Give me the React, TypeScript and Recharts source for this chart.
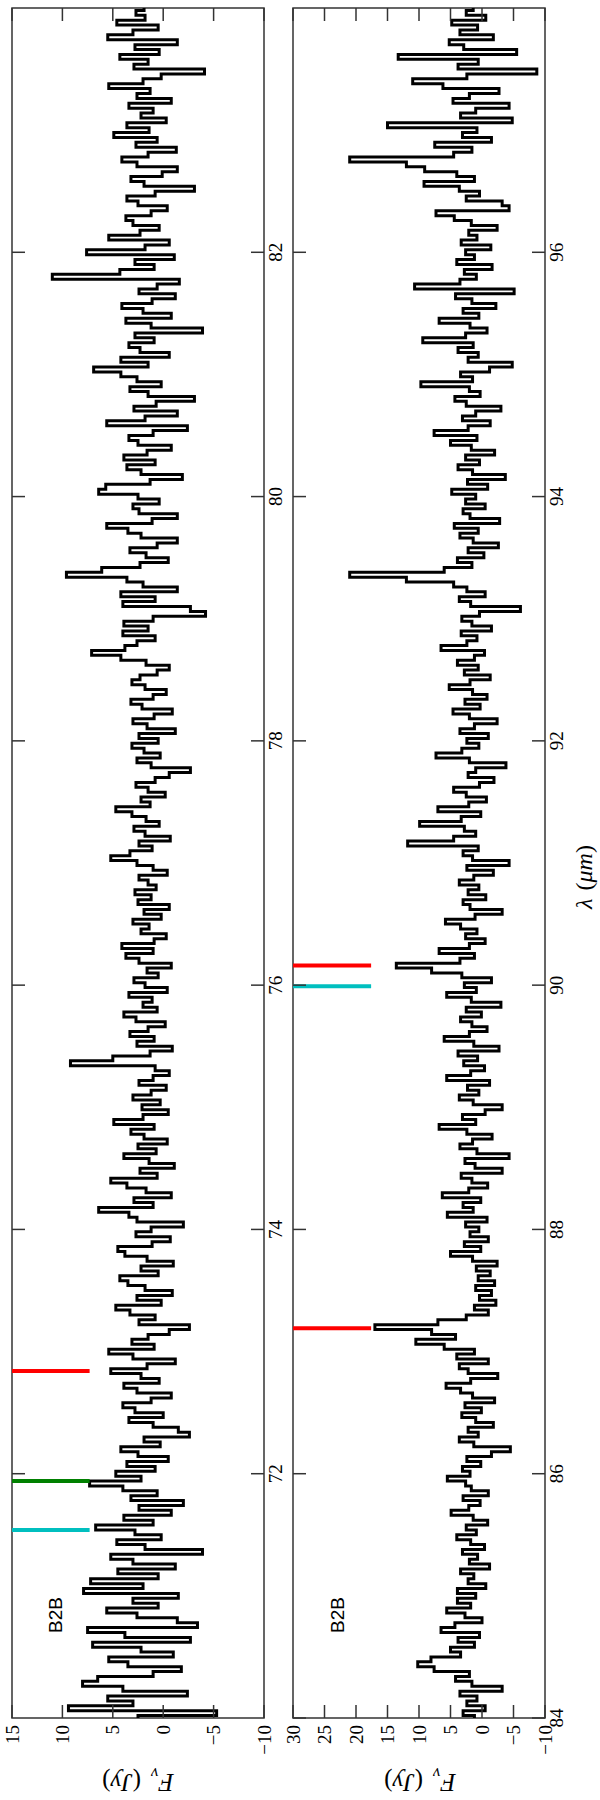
import React from "react";
import {
  LineChart,
  Line,
  XAxis,
  YAxis,
  ReferenceArea,
  ReferenceLine,
} from "recharts";

// sampling of both spectra, in µm
const STEP = 0.04;

// B2B, upper panel: 70.00 .. 84.00 µm, Fν in Jy (one row per µm)
const fluxShort = [
  2.5, -5.3, 9.4, 3.0, 5.5, -2.4, 4.0, 8.0, 6.5, 1.0, -1.8, 3.5, 5.4, -1.0, 2.2, 7.0, -2.7, 3.8, 7.5, -3.4, -1.4, 2.6, 5.6, 0.5, 3.0, // 70
  -1.5, 7.9, 2.0, 7.2, 0.5, 4.5, -1.2, 3.0, 5.2, -3.9, 1.8, 4.6, 0.2, 2.8, 6.7, 1.0, 3.9, -0.8, 2.4, -2.0, 3.2, 0.6, 4.0, 7.3, 2.2, // 71
  4.7, 0.8, 3.6, -0.5, 2.5, 4.2, 0.3, 1.9, -2.6, -1.5, 1.0, 3.4, 0.0, 2.8, 4.0, 1.2, -0.8, 2.6, 3.9, 0.4, 2.2, 5.2, 1.6, -1.2, 3.0, // 72
  5.4, 0.9, 3.1, 1.5, -0.6, -2.6, 2.4, 0.8, 3.3, 4.7, 0.2, 2.6, -0.9, 1.8, 3.5, 4.3, 0.5, 2.2, -1.0, 1.6, 3.8, 4.5, 1.1, -0.7, 2.7, // 73
  1.2, -2.0, 2.6, 3.4, 6.4, 1.0, 2.9, -0.8, 1.7, 3.6, 5.2, 0.6, 2.3, -1.1, 1.4, 3.9, 0.7, 2.5, -0.4, 1.9, 3.2, 0.9, 4.9, 2.0, -0.5, // 74
  2.1, 0.3, 3.0, 1.2, -0.3, 2.4, 1.0, -0.6, 0.8, 9.2, 5.0, 1.3, -0.9, 2.6, 0.9, 3.3, 1.5, -0.2, 2.7, 3.9, 0.6, 2.0, 1.1, 3.4, -0.4, // 75
  1.8, 2.9, 0.5, 1.6, -0.8, 2.4, 3.7, 1.0, 4.1, 0.9, -0.3, 2.2, 1.4, 3.0, 0.2, 1.9, -0.6, 2.5, 1.2, 2.8, 0.7, 1.5, 2.4, -0.4, 1.0, // 76
  2.6, 5.2, 3.3, 1.1, 2.4, -0.7, 1.8, 2.9, 0.4, 1.7, 3.1, 4.7, 1.3, 2.2, -0.2, 1.5, 2.7, 0.8, -0.6, -2.7, 1.2, 2.6, 0.3, 1.9, 3.1, // 77
  0.5, 2.4, -1.2, 1.6, 3.0, 0.9, -0.9, 2.1, 3.2, 1.0, -0.3, 1.8, 3.1, 2.3, 0.6, -0.6, 1.7, 4.2, 7.1, 3.8, 2.6, 0.8, 4.0, 1.5, 3.9, // 78
  1.0, -4.2, -2.7, 4.0, 0.8, 4.2, -1.4, 2.0, 3.6, 9.6, 6.1, 2.3, -0.5, 1.7, 3.3, 0.6, -1.4, 2.2, 3.5, 5.6, 1.1, -1.4, 2.4, 3.0, 0.4, // 79
  2.5, 6.4, 5.7, 1.3, -1.9, 2.2, 3.6, 0.8, 3.9, 1.6, -0.8, 2.5, 3.4, 1.0, -2.4, 5.6, 1.8, -1.4, 2.9, 0.7, -3.1, 1.5, 3.3, 0.2, 2.6, // 80
  4.2, 6.9, 1.5, 4.2, -0.6, 2.3, 3.4, 0.9, 2.8, -3.9, 1.2, 3.7, -0.8, 2.0, 4.1, 1.1, -1.2, 2.4, 0.6, -1.6, 11.0, 4.3, 0.9, 2.8, -1.1, // 81
  7.6, 1.8, -0.6, 5.4, 2.3, 0.4, 3.0, 3.7, 1.2, -0.4, 2.5, 3.6, 0.8, -3.1, 1.9, 3.2, 0.1, -1.4, 2.6, 4.1, 1.5, -1.3, 2.7, 0.6, 4.9, // 82
  1.4, 3.6, -0.3, 2.2, 1.0, 3.4, -0.8, 2.6, 1.3, 5.4, 2.0, 0.2, -4.1, 2.9, 1.5, 4.3, 0.4, 2.8, -1.4, 5.5, 3.0, 0.5, 4.6, 1.8, 2.7, // 83
  1.9,
];

// B2B, lower panel: 84.00 .. 98.00 µm, Fν in Jy
const fluxLong = [
  1.2, 3.0, -0.5, 2.4, 0.8, 3.5, -3.2, 1.6, 4.2, 2.0, 7.6, 10.2, 8.1, 3.4, 5.0, 1.2, 3.8, 0.4, 6.5, 4.3, 0.0, 2.7, 5.6, 1.8, 3.9, // 84
  1.0, 3.9, -0.6, 2.2, 1.3, 3.4, -1.2, 2.0, 0.7, 3.1, -0.4, 1.8, 4.0, 0.9, 2.5, -0.9, 1.4, 4.9, 2.1, 0.3, 3.0, -1.0, 1.7, 2.6, 5.5, // 85
  1.9, 3.1, 0.2, 2.4, -1.5, -4.5, 1.3, 3.6, 0.6, 2.2, -1.8, 1.0, 3.2, 0.1, 2.7, -2.0, 1.5, 3.4, 5.7, 1.8, -2.5, 2.2, 3.6, -1.0, 4.0, // 86
  1.2, 6.0, 10.5, 4.2, 8.0, 17.0, 7.0, 2.5, -1.0, 1.2, -2.2, 0.4, -1.5, 1.0, -2.0, 0.6, -1.3, 0.9, -2.4, 1.5, 5.0, 0.2, 2.8, -1.0, 1.9, // 87
  0.5, 2.6, -0.8, 5.5, 1.4, 3.0, 0.2, 6.3, 2.1, -0.9, 1.6, 3.3, -3.2, 1.1, 2.7, -4.3, 0.8, 3.5, 1.5, -1.6, 2.4, 6.8, 1.0, 3.1, -0.5, // 88
  -3.2, 1.4, 3.6, 0.5, 2.3, -1.2, 5.6, 1.8, -0.4, 2.9, 0.7, 3.8, -2.7, 1.3, 6.0, 2.0, -0.8, 1.6, 3.4, 0.1, 2.5, -3.0, 1.7, 5.6, 0.9, // 89
  2.8, -1.5, 3.2, 8.0, 13.6, 3.5, 1.2, 6.8, 2.0, -0.5, 2.6, 0.8, 3.4, 5.8, 1.1, -3.2, 1.9, 3.0, -0.6, 2.2, 0.5, 3.6, 1.3, -1.8, 2.4, // 90
  -4.3, 1.5, 3.0, 0.6, 11.8, 4.5, 1.0, 2.8, 9.9, 3.3, 0.2, 7.0, 2.1, -0.7, 2.5, 4.5, 0.4, -1.9, 2.2, 1.0, -3.8, 2.0, 7.3, 3.2, 0.5, // 91
  2.4, -1.0, 3.5, 1.2, -2.4, 2.0, 4.6, 0.3, 2.7, -0.8, 1.5, 5.2, 1.9, -1.3, 2.8, 0.6, 3.9, 1.2, -0.4, 6.5, 2.4, 0.8, 3.3, -1.5, 1.6, // 92
  3.2, 0.4, -6.1, 1.8, 3.6, -0.5, 2.4, 4.5, 12.0, 21.0, 6.0, 1.6, 3.9, -0.3, 2.2, -2.6, 1.4, 3.5, 0.6, 4.4, -2.8, 1.9, 3.0, -0.5, 2.6, // 93
  1.0, 4.8, -0.9, 2.3, -3.7, 1.5, 3.8, 0.4, 2.6, -2.0, 1.7, 5.0, 0.8, 7.6, 2.2, -1.3, 3.1, 1.0, -3.0, 2.5, 4.3, 0.3, 2.0, 9.7, 1.5, // 94
  3.4, -1.2, -4.8, 2.2, 0.6, 3.8, 1.4, 9.4, 2.6, -0.8, 1.9, 6.8, 0.5, 3.0, -2.2, 1.6, 4.2, -5.1, 10.7, 3.5, 0.9, 2.8, -1.6, 4.0, 1.2, // 95
  2.6, -1.4, 3.3, 0.8, 2.1, -2.4, 1.7, 4.4, 7.3, -4.3, -3.2, 2.5, 0.4, 3.6, 9.2, 1.2, 4.0, 9.1, 12.0, 21.0, 4.5, 1.6, 7.5, -1.5, 3.1, // 96
  0.8, 15.0, -4.8, 3.4, 1.0, -4.3, 4.6, 2.0, -2.7, 6.2, 11.0, 2.4, -8.7, 3.8, 0.6, 13.3, -5.5, 2.9, 5.2, -1.8, 3.5, 0.7, 4.8, -0.6, 2.5, // 97
  1.4,
];

const shortRange = [70, 84];
const longRange = [84, 98];
const shortTicks = [72, 74, 76, 78, 80, 82];
const longTicks = [84, 86, 88, 90, 92, 94, 96];
const shortFluxRange = [-10, 15];
const longFluxRange = [-10, 30];
const shortFluxTicks = [-10, -5, 0, 5, 10, 15];
const longFluxTicks = [-10, -5, 0, 5, 10, 15, 20, 25, 30];

// line identifications (µm) and the flux span of their markers
const shortLines = [71.54, 71.94, 72.84];
const longLines = [87.19, 89.99, 90.16];
const shortMarkerSpan = [7.3, 15];
const longMarkerSpan = [17.6, 30];

const CYAN = "#00bfbf";
const GREEN = "#008000";
const RED = "#ff0000";
const shortLineColors = [CYAN, GREEN, RED];
const longLineColors = [RED, CYAN, RED];

// landscape layout, the whole figure is turned a quarter to the left
const FIG_W = 1800;
const FIG_H = 600;
const CHART_H = 300;
const PLOT_TOP = 12;
const PLOT_LEFT = 82;
const PLOT_RIGHT = 1792;
const X_AXIS_H = 36;
const PLOT_BOTTOM = CHART_H - X_AXIS_H;
const TICK = 13;
const FRAME = "#333";
const SERIF = "'Liberation Serif', 'DejaVu Serif', serif";

function fmt(v: number) {
  return v < 0 ? `\u2212${Math.abs(v)}` : `${v}`;
}

function YTick(props: any) {
  const { x, y, payload } = props;
  return (
    <g>
      <line x1={PLOT_LEFT} x2={PLOT_LEFT + TICK} y1={y} y2={y} stroke={FRAME} strokeWidth={1.5} />
      <line x1={PLOT_RIGHT - TICK} x2={PLOT_RIGHT} y1={y} y2={y} stroke={FRAME} strokeWidth={1.5} />
      <text x={x} y={y} textAnchor="end" dominantBaseline="central" fontFamily={SERIF} fontSize={19} fill="#000">
        {fmt(payload.value)}
      </text>
    </g>
  );
}

function XTick(props: any) {
  const { x, y, payload } = props;
  return (
    <g>
      <line x1={x} x2={x} y1={PLOT_BOTTOM} y2={PLOT_BOTTOM - TICK} stroke={FRAME} strokeWidth={1.5} />
      <line x1={x} x2={x} y1={PLOT_TOP} y2={PLOT_TOP + TICK} stroke={FRAME} strokeWidth={1.5} />
      <text x={x} y={y} textAnchor="middle" dominantBaseline="hanging" fontFamily={SERIF} fontSize={19} fill="#000">
        {payload.value}
      </text>
    </g>
  );
}

interface PanelProps {
  flux: number[];
  xDomain: number[];
  xTicks: number[];
  yDomain: number[];
  yTicks: number[];
  lines: number[];
  colors: string[];
  span: number[];
}

function Panel({ flux, xDomain, xTicks, yDomain, yTicks, lines, colors, span }: PanelProps) {
  const data = flux.map((f, i) => ({ wl: xDomain[0] + i * STEP, f }));
  return (
    <LineChart
      width={FIG_W}
      height={CHART_H}
      data={data}
      margin={{ top: PLOT_TOP, right: FIG_W - PLOT_RIGHT, bottom: 0, left: 0 }}
    >
      <XAxis
        dataKey="wl"
        type="number"
        domain={xDomain}
        ticks={xTicks}
        interval={0}
        height={X_AXIS_H}
        tickSize={0}
        tickMargin={4}
        axisLine={false}
        tickLine={false}
        tick={XTick}
        allowDataOverflow
      />
      <YAxis
        type="number"
        domain={yDomain}
        ticks={yTicks}
        interval={0}
        width={PLOT_LEFT}
        tickSize={0}
        tickMargin={7}
        axisLine={false}
        tickLine={false}
        tick={YTick}
        allowDataOverflow
      />
      <Line
        dataKey="f"
        type="step"
        stroke="#000"
        strokeWidth={3}
        dot={false}
        isAnimationActive={false}
      />
      {lines.map((wl, i) => (
        <ReferenceLine
          key={wl}
          segment={[
            { x: wl, y: span[0] },
            { x: wl, y: span[1] },
          ]}
          stroke={colors[i]}
          strokeWidth={4}
        />
      ))}
      <ReferenceArea
        x1={xDomain[0]}
        x2={xDomain[1]}
        y1={yDomain[0]}
        y2={yDomain[1]}
        fill="none"
        fillOpacity={0}
        stroke={FRAME}
        strokeWidth={1.5}
      />
    </LineChart>
  );
}

const fluxLabel = (
  <>
    <i>F</i>
    <sub style={{ fontSize: 17 }}>
      <i>ν</i>
    </sub>
    <span style={{ marginLeft: 10 }}>(</span>
    <i>Jy</i>)
  </>
);

export default function App() {
  const labelBase: React.CSSProperties = {
    position: "absolute",
    whiteSpace: "nowrap",
    lineHeight: 1,
  };
  return (
    <div style={{ position: "absolute", left: 0, top: 0, width: 600, height: 1800, overflow: "hidden", background: "#fff" }}>
      <div
        style={{
          position: "absolute",
          left: 0,
          top: 0,
          width: FIG_W,
          height: FIG_H,
          transformOrigin: "0 0",
          transform: `translateY(${FIG_W}px) rotate(-90deg)`,
        }}
      >
        <div style={{ position: "absolute", left: 0, top: 0 }}>
          <Panel
            flux={fluxShort}
            xDomain={shortRange}
            xTicks={shortTicks}
            yDomain={shortFluxRange}
            yTicks={shortFluxTicks}
            lines={shortLines}
            colors={shortLineColors}
            span={shortMarkerSpan}
          />
        </div>
        <div style={{ position: "absolute", left: 0, top: 281 }}>
          <Panel
            flux={fluxLong}
            xDomain={longRange}
            xTicks={longTicks}
            yDomain={longFluxRange}
            yTicks={longFluxTicks}
            lines={longLines}
            colors={longLineColors}
            span={longMarkerSpan}
          />
        </div>

        {[55, 337].map((cy) => (
          <div
            key={`b2b-${cy}`}
            style={{
              ...labelBase,
              left: 185,
              top: cy,
              transform: "translate(-50%, -50%)",
              fontFamily: "'Liberation Sans', Arial, sans-serif",
              fontSize: 19,
            }}
          >
            B2B
          </div>
        ))}

        {[138, 420].map((cy) => (
          <div
            key={`flux-${cy}`}
            style={{
              ...labelBase,
              left: 20,
              top: cy,
              transform: "translate(-50%, -50%) rotate(-90deg)",
              fontFamily: SERIF,
              fontSize: 25,
            }}
          >
            {fluxLabel}
          </div>
        ))}

        <div
          style={{
            ...labelBase,
            left: 923,
            top: 584,
            transform: "translate(-50%, -50%)",
            fontFamily: SERIF,
            fontSize: 24,
          }}
        >
          <i>λ</i>
          <span style={{ marginLeft: 8 }}>(</span>
          <i>μm</i>)
        </div>
      </div>
    </div>
  );
}
